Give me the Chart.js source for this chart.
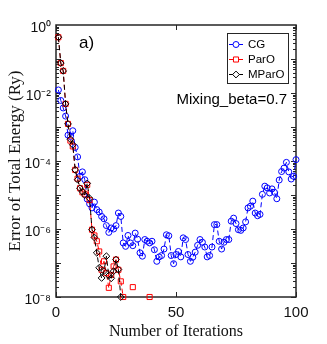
<!DOCTYPE html>
<html>
<head>
<meta charset="utf-8">
<script src="https://cdn.jsdelivr.net/npm/chart.js@4.4.1/dist/chart.umd.min.js"></script>
<style>
html,body{margin:0;padding:0;background:#fff;}
</style>
</head>
<body>
<canvas id="myChart" width="327" height="344"></canvas>
<script>
// log10 of the total energy error, one value per iteration (1, 2, 3 ...)
const cgLog = [
  -1.91,-2.22,-2.44,-2.68,-3.24,-3.28,-3.11,-3.60,-3.88,-4.45,
  -4.32,-4.55,-5.12,-5.26,-5.38,-5.21,-5.43,-5.50,-5.63,-5.70,
  -5.90,-6.10,-5.97,-6.00,-5.90,-5.53,-5.63,-6.41,-6.51,-6.19,
  -6.41,-6.49,-6.12,-6.30,-6.70,-6.80,-6.31,-6.36,-6.41,-6.36,
  -6.61,-6.95,-6.82,-6.78,-6.59,-6.17,-6.20,-6.78,-7.02,-6.75,
  -6.66,-6.82,-6.26,-6.31,-6.75,-6.95,-6.83,-6.68,-6.48,-6.31,
  -6.39,-6.53,-6.82,-6.78,-6.53,-5.87,-5.87,-6.36,-6.59,-6.39,
  -6.31,-6.31,-5.77,-5.68,-5.84,-6.02,-6.04,-5.97,-5.79,-5.38,
  -5.33,-5.18,-5.53,-5.61,-5.57,-4.98,-4.74,-4.79,-4.94,-4.82,
  -4.92,-5.11,-4.56,-4.31,-4.21,-4.04,-4.32,-4.53,-4.45,-3.96
];
const paroLog = [
  -0.36,-1.12,-1.35,-2.32,-2.91,-3.40,-3.57,-4.26,-4.52,-4.80,
  -4.92,-4.98,-4.70,-5.15,-6.02,-6.19,-6.36,-6.66,-7.20,-6.95,
  -7.30,-7.73,-7.35,-7.10,-6.90,-7.20,-7.54,-8.00,null,null,
  null,-7.71,null,null,null,null,null,null,-8.00
];
const mparoLog = [
  -0.36,-1.12,-1.35,-2.32,-2.91,-3.36,-3.52,-4.26,-4.55,-4.80,
  -4.90,-5.00,-4.66,-5.10,-6.02,-6.25,-6.70,-7.14,-7.44,-7.24,
  -6.80,-7.37,-7.45,-7.24,-6.90,-7.19,-8.00
];
const seriesNames = ['CG', 'ParO', 'MParO'];
const xTicks = [0, 50, 100];
const yTickExp = [0, -2, -4, -6, -8];
const yTickLabels = ['10\u2070', '10\u207B\u00B2', '10\u207B\u2074', '10\u207B\u2076', '10\u207B\u2078'];

const toPoints = (arr) => arr.map((v, i) => ({x: i + 1, y: v === null ? null : Math.pow(10, v)}));

const axisColor = '#262626';

// box, inward ticks on all four sides (matlab style)
const frame = {
  id: 'frame',
  beforeDatasetsDraw(chart) {
    const {ctx, chartArea: a, scales: {x, y}} = chart;
    ctx.save();
    ctx.strokeStyle = axisColor;
    ctx.lineWidth = 1;
    ctx.beginPath();
    for (let e = -8; e < 0; e++) {
      for (let m = 1; m < 10; m++) {
        const py = Math.round(y.getPixelForValue(m * Math.pow(10, e))) + 0.5;
        const len = m === 1 ? 5 : 3;
        ctx.moveTo(a.left, py); ctx.lineTo(a.left + len, py);
        ctx.moveTo(a.right, py); ctx.lineTo(a.right - len, py);
      }
    }
    xTicks.forEach(v => {
      const px = Math.round(x.getPixelForValue(v)) + 0.5;
      ctx.moveTo(px, a.bottom); ctx.lineTo(px, a.bottom - 5);
      ctx.moveTo(px, a.top); ctx.lineTo(px, a.top + 5);
    });
    ctx.stroke();
    ctx.lineWidth = 1.5;
    ctx.strokeRect(a.left, a.top, a.right - a.left, a.bottom - a.top);
    ctx.restore();
  },
  afterDraw(chart) {
    const {ctx} = chart;
    ctx.save();
    ctx.fillStyle = '#000';
    ctx.font = '17px "Liberation Sans", Arial, sans-serif';
    ctx.textBaseline = 'alphabetic';
    ctx.fillText('a)', 79, 48);
    ctx.font = '15px "Liberation Sans", Arial, sans-serif';
    ctx.textAlign = 'right';
    ctx.fillText('Mixing_beta=0.7', 287, 104);

    // legend
    const bx = 227, by = 33, bw = 61, bh = 50;
    ctx.fillStyle = '#fff';
    ctx.fillRect(bx, by, bw, bh);
    ctx.strokeStyle = axisColor;
    ctx.lineWidth = 1;
    ctx.strokeRect(bx + 0.5, by + 0.5, bw, bh);
    ctx.textAlign = 'left';
    ctx.textBaseline = 'middle';
    ctx.font = '11.5px "Liberation Sans", Arial, sans-serif';
    const rows = [44, 59, 74];
    chart.data.datasets.forEach((ds, i) => {
      const ry = rows[i] + 0.5;
      ctx.strokeStyle = ds.borderColor;
      ctx.lineWidth = 1;
      ctx.beginPath();
      ctx.moveTo(229, ry); ctx.lineTo(243, ry);
      ctx.stroke();
      ctx.fillStyle = '#fff';
      Chart.helpers.drawPoint(ctx, {pointStyle: ds.pointStyle, radius: ds.pointRadius, borderWidth: 1}, 236, ry);
      ctx.fillStyle = '#000';
      ctx.fillText(ds.label, 248, rows[i] + 1);
    });
    ctx.restore();
  }
};

const makeSet = (label, arr, color, style, radius, order) => ({
  label: label,
  data: toPoints(arr),
  borderColor: color,
  backgroundColor: color,
  borderWidth: 1,
  borderDash: [5, 3],
  pointStyle: style,
  pointRadius: radius,
  pointBorderColor: color,
  pointBackgroundColor: 'rgba(0,0,0,0)',
  pointBorderWidth: 1,
  spanGaps: false,
  clip: false,
  order: order
});

const ctx = document.getElementById('myChart').getContext('2d');
const myChart = new Chart(ctx, {
  type: 'line',
  data: {
    datasets: [
      makeSet(seriesNames[0], cgLog, '#0000ff', 'circle', 3, 2),
      makeSet(seriesNames[1], paroLog, '#ff0000', 'rect', 3.6, 1),
      makeSet(seriesNames[2], mparoLog, '#000000', 'rectRot', 3.4, 0)
    ]
  },
  options: {
    responsive: false,
    animation: false,
    devicePixelRatio: 1,
    layout: {padding: {top: 25, right: 31, left: 0, bottom: 0}},
    plugins: {legend: {display: false}, tooltip: {enabled: false}},
    scales: {
      x: {
        type: 'linear',
        min: 0, max: 100,
        afterFit: (s) => { s.height = 47; },
        afterBuildTicks: (s) => { s.ticks = xTicks.map(v => ({value: v})); },
        grid: {display: false, drawTicks: false},
        border: {display: false},
        ticks: {
          color: '#111',
          font: {family: '"Liberation Sans", Arial, sans-serif', size: 15},
          padding: 7,
          maxRotation: 0
        },
        title: {
          display: true,
          text: 'Number of Iterations',
          color: '#111',
          font: {family: '"Liberation Serif", "Times New Roman", serif', size: 16},
          padding: {top: 0, bottom: 3}
        }
      },
      y: {
        type: 'logarithmic',
        min: 1e-8, max: 1,
        afterFit: (s) => { s.width = 56; },
        afterBuildTicks: (s) => { s.ticks = yTickExp.map(e => ({value: Math.pow(10, e)})); },
        grid: {display: false, drawTicks: false},
        border: {display: false},
        ticks: {
          color: '#111',
          font: {family: '"Liberation Sans", Arial, sans-serif', size: 14},
          padding: 5,
          labelOffset: 3,
          callback: (v) => {
            const k = yTickExp.indexOf(Math.round(Math.log10(v)));
            return k >= 0 ? yTickLabels[k] : '';
          }
        },
        title: {
          display: true,
          text: 'Error of Total Energy (Ry)',
          color: '#111',
          font: {family: '"Liberation Serif", "Times New Roman", serif', size: 17},
          padding: {top: 5, bottom: 0}
        }
      }
    }
  },
  plugins: [frame]
});
</script>
</body>
</html>
